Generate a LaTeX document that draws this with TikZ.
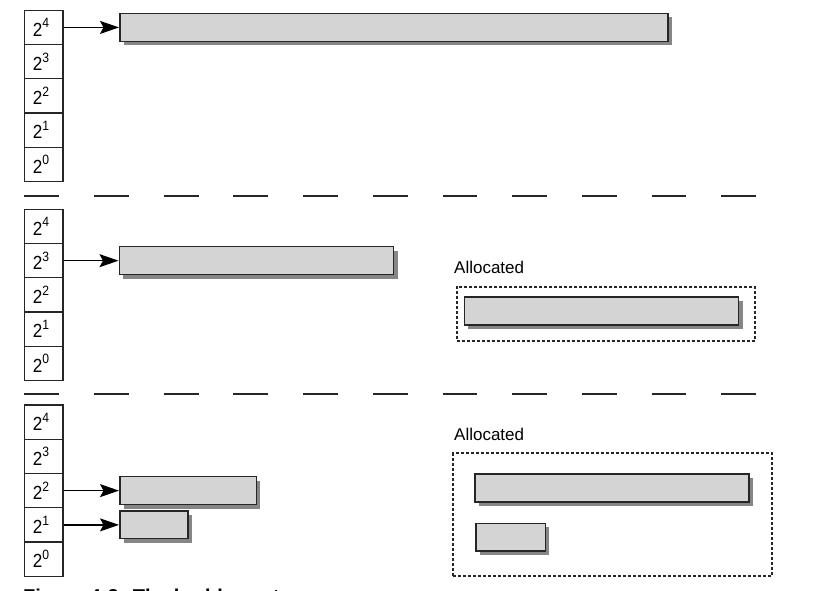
\documentclass[tikz,border=0pt]{standalone}
\usepackage{fontspec}
\setmainfont{Liberation Sans}
\newfontfamily\cellfont[FakeStretch=0.9]{Liberation Sans}
\usetikzlibrary{arrows.meta,shadows}
\definecolor{boxfill}{HTML}{D4D4D4}
\definecolor{edgecol}{HTML}{262626}
\definecolor{shadecol}{HTML}{868686}
\newcommand{\powtwo}[1]{2\raisebox{8.3pt}{\fontsize{13.5}{13.5}\selectfont #1}}
\begin{document}
\begin{tikzpicture}[x=1pt,y=-1pt,
  cell/.style={draw=edgecol,line width=1.2pt,rectangle,inner xsep=8.5pt,inner ysep=0pt,
    text width=21.7pt,align=left,minimum height=34.25pt,font=\cellfont\fontsize{19}{21}\selectfont},
  block/.style={draw=edgecol,line width=1.5pt,fill=boxfill,rectangle,inner sep=0pt,
    minimum height=28pt,
    drop shadow={shadow xshift=4pt,shadow yshift=-4pt,fill=shadecol,opacity=1}},
  ptr/.style={-{Stealth[length=19pt,width=13pt,inset=3.5pt]},line width=1.3pt,black},
  allocframe/.style={draw=edgecol,line width=1.8pt,dash pattern=on 3pt off 2pt,
    rectangle,inner sep=0pt},
  divider/.style={draw=edgecol,line width=2pt,dash pattern=on 34.8pt off 34.9pt},
  lab/.style={font=\fontsize{17}{20}\selectfont,anchor=base west,inner sep=0pt}]
\useasboundingbox (0,0) rectangle (813,591);
\fill[white] (0,0) rectangle (813,591);

% tables
\foreach \s/\t in {1/10.3,2/209.3,3/405}{
  \foreach \e [count=\k from 0] in {4,3,2,1,0}{
    \node[cell] (c\s-\e) at (43.65,\t+17.125+34.25*\k) {\powtwo{\e}};
  }
}

% free-list blocks
\node[block,anchor=west,minimum width=548.3pt] (b1) at (119,27.425) {};
\node[block,anchor=west,minimum width=274.4pt] (b2) at (118.5,260.675) {};
\node[block,anchor=west,minimum width=136.7pt] (b3) at (119,490.625) {};
\node[block,anchor=west,minimum width=68pt,minimum height=27.3pt] (b4) at (119,524.875) {};

\draw[ptr] (c1-4.east) -- (b1.west);
\draw[ptr] (c2-3.east) -- (b2.west);
\draw[ptr] (c3-2.east) -- (b3.west);
\draw[ptr] (c3-1.east) -- (b4.west);

% allocated regions
\node[allocframe,minimum width=298.3pt,minimum height=54pt] (f2) at (605.85,313.7) {};
\node[allocframe,minimum width=319pt,minimum height=122.4pt] (f3) at (612.8,514.5) {};
\node[block,minimum width=274.4pt] (b5) at (601.5,311) {};
\node[block,minimum width=274pt] (b6) at (612,488) {};
\node[block,minimum width=69.3pt,minimum height=27.7pt] (b7) at (510.7,537.2) {};
\node[lab] (l2) at (454,273.3) {Allocated};
\node[lab] (l3) at (454,440) {Allocated};

% dividers
\coordinate (d1a) at (24.3,195.7);
\coordinate (d1b) at (756,195.7);
\coordinate (d2a) at (24.3,394.3);
\coordinate (d2b) at (756,394.3);
\draw[divider] (d1a) -- (d1b);
\draw[divider] (d2a) -- (d2b);

% caption (cut off by the page edge, as in the reference)
\node[anchor=base west,inner sep=0pt,font=\bfseries\fontsize{20}{24}\selectfont] (cap) at (23,603.5) {Figure 4-2: The buddy system};
\end{tikzpicture}
\end{document}
